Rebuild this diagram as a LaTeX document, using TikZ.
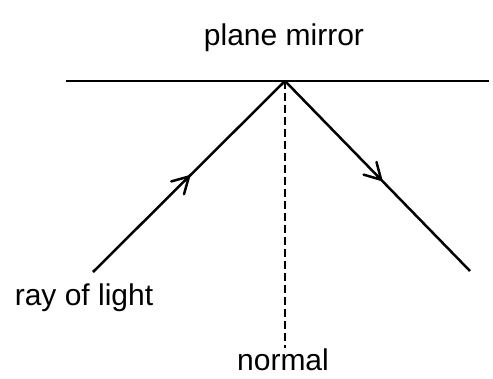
\documentclass[tikz,border=0pt]{standalone}
\usepackage{fontspec}
\setmainfont{Liberation Sans}
\usetikzlibrary{decorations.markings}
\begin{document}
\begin{tikzpicture}[x=1pt,y=-1pt,
  line width=2.5pt,
  lbl/.style={font=\fontsize{30}{30}\selectfont, inner sep=0pt},
  midarrow/.style={postaction={decorate},decoration={markings,
    mark=at position #1 with {\draw[line width=2.5pt, line cap=round, line join=round, x=1pt, y=1pt] (-16,9) -- (0,0) -- (-16,-9);}}}]
\useasboundingbox (0,0) rectangle (493,378);
\coordinate (ml) at (66,81);
\coordinate (mr) at (489,81);
\coordinate (p) at (285,81);
\coordinate (s) at (93,272);
\coordinate (e) at (470,271);
\coordinate (nb) at (285,348);
\draw (ml) -- (mr);
\draw[midarrow=0.5] (s) -- (p);
\draw[midarrow=0.52] (p) -- (e);
\draw[line width=1.4pt, dash pattern=on 8pt off 4pt] (p) -- (nb);
\node[lbl] (t1) at (284,38) {plane mirror};
\node[lbl] (t2) at (84,298) {ray of light};
\node[lbl] (t3) at (283,360) {normal};
\end{tikzpicture}
\end{document}
